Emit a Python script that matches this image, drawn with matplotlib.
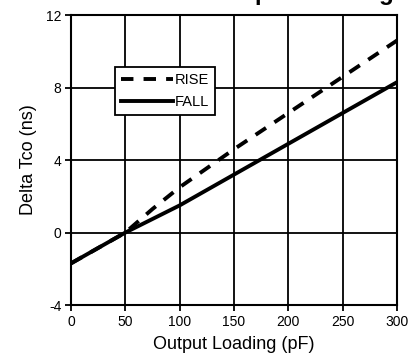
import numpy as np
import matplotlib
matplotlib.use("Agg")
from matplotlib import pyplot as plt

plt.rcParams['font.family'] = ['Liberation Sans', 'DejaVu Sans']
plt.rcParams['axes.unicode_minus'] = False

# output loading (pF) vs delta Tco (ns)
loading = [0, 25, 50, 75, 100, 150, 200, 250, 300]
rise = [-1.7, -0.85, 0.0, 1.3, 2.5, 4.6, 6.6, 8.6, 10.6]
fall = [-1.7, -0.85, 0.0, 0.75, 1.5, 3.2, 4.9, 6.6, 8.3]

x_ticks = [0, 50, 100, 150, 200, 250, 300]
y_ticks = [-4, 0, 4, 8, 12]

fig = plt.figure(figsize=(4.08, 3.61), dpi=100)
ax = fig.add_axes([0.174, 0.155, 0.799, 0.803])

ax.plot(loading, rise, color='black', lw=2.8, ls=(0, (3.2, 2.6)), label='RISE')
ax.plot(loading, fall, color='black', lw=2.8, label='FALL')

ax.set_xlim(0, 300)
ax.set_ylim(-4, 12)
ax.set_xticks(x_ticks)
ax.set_yticks(y_ticks)
ax.grid(True, color='black', lw=1.3)
ax.set_axisbelow(True)
for s in ax.spines.values():
    s.set_linewidth(1.5)
ax.tick_params(direction='out', length=4, width=1.3, labelsize=10, pad=3)

ax.set_xlabel('Output Loading (pF)', fontsize=13, labelpad=5)
ax.set_ylabel('Delta Tco (ns)', fontsize=13, labelpad=6)

leg = ax.legend(loc='upper left', bbox_to_anchor=(0.135, 0.82), fontsize=10.5,
                handlelength=3.6, handletextpad=0.1, borderpad=0.4,
                labelspacing=0.55, fancybox=False, framealpha=1,
                borderaxespad=0)
leg.get_frame().set_edgecolor('black')
leg.get_frame().set_linewidth(1.3)

# title is mostly cut off at the top in the original
fig.text(0.965, 1.0, 'Delta Tco vs Output Loading', ha='right', va='baseline',
         fontsize=17.5, fontweight='bold')

fig.savefig('out.png', dpi=100)
